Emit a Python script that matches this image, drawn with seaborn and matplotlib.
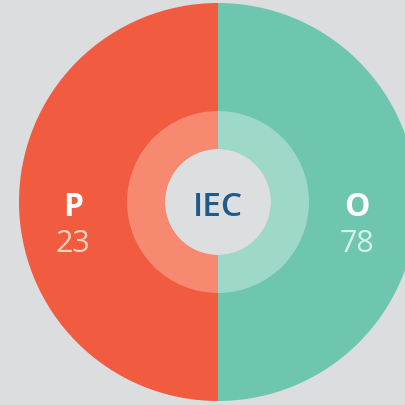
import numpy as np
import seaborn as sns
import matplotlib.pyplot as plt

# data
groups = ["P", "O"]
counts = [23, 78]
shares = [50, 50]

colors = ["#F15B40", "#6EC6AE"]
ring_colors = ["#F6896F", "#9DD8C8"]
value_colors = ["#FDD3BE", "#D2F1E7"]
label_dist = [145, 139]

sns.set_style("white", {"axes.facecolor": "#DCDDDF", "figure.facecolor": "#DCDDDF"})
plt.rcParams["font.family"] = ["Open Sans", "DejaVu Sans"]

fig = plt.figure(figsize=(4.06, 4.06), dpi=100)
ax = fig.add_axes([0, 0, 1, 1])

cx, cy = 218, 203

# outer halves
ax.pie(shares, colors=colors, startangle=90, center=(cx, cy), radius=199,
       wedgeprops=dict(linewidth=0), frame=True)
# lighter inner ring
ax.pie(shares, colors=ring_colors, startangle=90, center=(cx, cy), radius=91,
       wedgeprops=dict(linewidth=0, width=38), frame=True)
ax.add_patch(plt.Circle((cx, cy), 53, color="#DDDEE0", lw=0))

ax.set_xlim(0, 406)
ax.set_ylim(0, 406)
ax.set_aspect("equal")
ax.axis("off")

ax.text(cx, cy - 5, "IEC", ha="center", va="center", fontsize=24,
        fontweight="semibold", color="#1E5A8C")

# labels at middle of each half
for i, (g, n) in enumerate(zip(groups, counts)):
    ang = np.deg2rad(180 + 180 * i)
    x = cx + label_dist[i] * np.cos(ang)
    ax.text(x, cy - 5, g, ha="center", va="center", fontsize=23,
            fontweight="bold", color="white")
    ax.text(x, cy - 41, str(n), ha="center", va="center", fontsize=22,
            color=value_colors[i])

fig.savefig("out.png", dpi=100, facecolor=fig.get_facecolor())
